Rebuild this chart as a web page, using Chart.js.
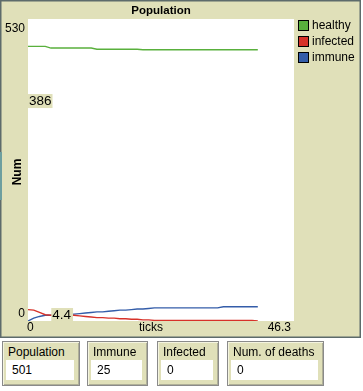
<!DOCTYPE html>
<html><head><meta charset="utf-8">
<script src="https://cdn.jsdelivr.net/npm/chart.js@4"></script>
<style>
body{margin:0;background:#fff;width:363px;height:391px;overflow:hidden;position:relative;font-family:"Liberation Sans",Arial,sans-serif}
canvas{position:absolute;left:0;top:0}
.mon{position:absolute;top:341px;height:45px;background:#e0e0b9;border:1px solid #8a8a8a;box-sizing:border-box;box-shadow:inset 1px 1px 0 #f4f4e0, inset -1px -1px 0 #b0b098}
.mon .lab{position:absolute;left:5px;top:3px;font-size:12px;line-height:14px;color:#000;white-space:nowrap}
.mon .val{position:absolute;left:3px;top:18px;right:5px;height:20px;background:#fff;font-size:12px;line-height:20px;padding-left:6px;box-sizing:border-box;color:#000}
</style></head><body>
<canvas id="c" width="363" height="391"></canvas>
<script>
// ---- data ----
const ticks = [0,1,2,3,4,5,6,7,8,9,10,11,12,13,14,15,16,17,18,19,20,21,22,23,24,25,26,27,28,29,30,31,32,33,34,35,36,37,38,39,40];
const healthy = [482,482,482,482,479,479,479,479,479,479,479,479,477,477,477,477,477,477,477,477,476,476,476,476,476,476,476,476,476,476,476,476,476,476,476,476,476,476,476,476,476];
const infected = [20,19,15,11,10,10,10,10,10,9,8,7,6,6,5,5,4,4,3,3,2,2,1,1,1,1,1,1,1,1,1,1,1,1,1,1,1,1,1,1,0];
const immune = [0,5,8,10,10,11,11,11,12,13,14,15,16,16,17,18,19,19,20,21,21,22,23,23,23,23,23,23,23,23,23,23,23,23,25,25,25,25,25,25,25];
const seriesNames = ["healthy","infected","immune"];
const seriesColors = ["#59b03c","#d73229","#345da9"];
const xRange = [0, 46.3];
const yRange = [0, 530];
const xTickLabels = ["0","46.3"];
const yTickLabels = ["530","0"];
const plotTitle = "Population";
const xTitle = "ticks";
const yTitle = "Num";
const hoverPoint = [4.4, 386];
const monitorLabels = ["Population","Immune","Infected","Num. of deaths"];
const monitorValues = ["501","25","0","0"];

const BEIGE = "#e0e0b9";
const FONT = '"Liberation Sans", Arial, sans-serif';

// monitors
const monGeom = [[2,78],[87,61],[157,62],[227,97]];
monitorLabels.forEach((l,i)=>{
  const d=document.createElement('div'); d.className='mon';
  d.style.left=monGeom[i][0]+'px'; d.style.width=monGeom[i][1]+'px';
  d.innerHTML='<div class="lab"></div><div class="val"></div>';
  d.querySelector('.lab').textContent=l;
  d.querySelector('.val').textContent=monitorValues[i];
  document.body.appendChild(d);
});

const series=[healthy,infected,immune];
const datasets = series.map((s,i)=>({
  label: seriesNames[i],
  data: ticks.map((t,j)=>({x:t,y:s[j]})),
  borderColor: seriesColors[i],
  backgroundColor: seriesColors[i],
  borderWidth: 1.4,
  pointRadius: 0,
  tension: 0,
  fill: false
}));

const frame = {
  id:'frame',
  beforeDraw(chart){
    const c=chart.ctx, a=chart.chartArea;
    c.save();
    c.fillStyle=BEIGE; c.fillRect(0,0,361,338);
    c.strokeStyle="#5d6b6b"; c.lineWidth=1.5; c.strokeRect(0.75,0.75,359.5,336.5);
    c.fillStyle="#6d9f9f"; c.fillRect(0,152,2,48);
    c.fillStyle="#fff"; c.fillRect(a.left,a.top,a.right-a.left,a.bottom-a.top);
    c.restore();
  },
  afterDraw(chart){
    const c=chart.ctx, a=chart.chartArea, xs=chart.scales.x, ys=chart.scales.y;
    c.save();
    c.fillStyle="#000";
    // title
    c.font="bold 11.5px "+FONT; c.textAlign="center"; c.textBaseline="middle";
    c.fillText(plotTitle,161,11);
    // y tick labels
    c.font="12px "+FONT; c.textAlign="right";
    c.fillText(yTickLabels[0],25,ys.getPixelForValue(yRange[1])+10);
    c.fillText(yTickLabels[1],25,ys.getPixelForValue(yRange[0])-7);
    // x tick labels
    c.textAlign="left"; c.fillText(xTickLabels[0],xs.getPixelForValue(xRange[0])-1,a.bottom+7);
    c.textAlign="right"; c.fillText(xTickLabels[1],xs.getPixelForValue(xRange[1])-3,a.bottom+7);
    c.textAlign="center"; c.fillText(xTitle,151,a.bottom+7);
    // y title
    c.save(); c.translate(18,(a.top+a.bottom)/2+2); c.rotate(-Math.PI/2);
    c.font="bold 12px "+FONT; c.fillText(yTitle,0,0); c.restore();
    // legend
    seriesNames.forEach((n,i)=>{
      const y=20+i*16;
      c.fillStyle=seriesColors[i]; c.fillRect(298,y,11,11);
      c.strokeStyle="#000"; c.lineWidth=1; c.strokeRect(298.5,y+0.5,10,10);
      c.fillStyle="#000"; c.font="12px "+FONT; c.textAlign="left"; c.textBaseline="middle";
      c.fillText(n,312,y+6);
    });
    // hover readouts
    c.font="13.5px "+FONT; c.textAlign="left"; c.textBaseline="middle";
    const hy=ys.getPixelForValue(hoverPoint[1]);
    const wY=c.measureText(String(hoverPoint[1])).width;
    c.fillStyle=BEIGE; c.fillRect(a.left,hy-7,wY+2,14);
    c.fillStyle="#000"; c.fillText(String(hoverPoint[1]),a.left+1,hy);
    const hx=xs.getPixelForValue(hoverPoint[0]);
    const wX=c.measureText(String(hoverPoint[0])).width;
    c.fillStyle=BEIGE; c.fillRect(hx-2,a.bottom-13,wX+3,13);
    c.fillStyle="#000"; c.fillText(String(hoverPoint[0]),hx-1,a.bottom-6);
    c.restore();
  }
};

new Chart(document.getElementById('c'),{
  type:'line',
  data:{datasets},
  options:{
    responsive:false, animation:false, devicePixelRatio:1,
    layout:{padding:{left:28,top:19,right:69,bottom:70}},
    plugins:{legend:{display:false},tooltip:{enabled:false},title:{display:false}},
    scales:{
      x:{type:'linear',min:xRange[0],max:xRange[1],display:false},
      y:{type:'linear',min:yRange[0],max:yRange[1],display:false}
    }
  },
  plugins:[frame]
});
</script>
</body></html>
